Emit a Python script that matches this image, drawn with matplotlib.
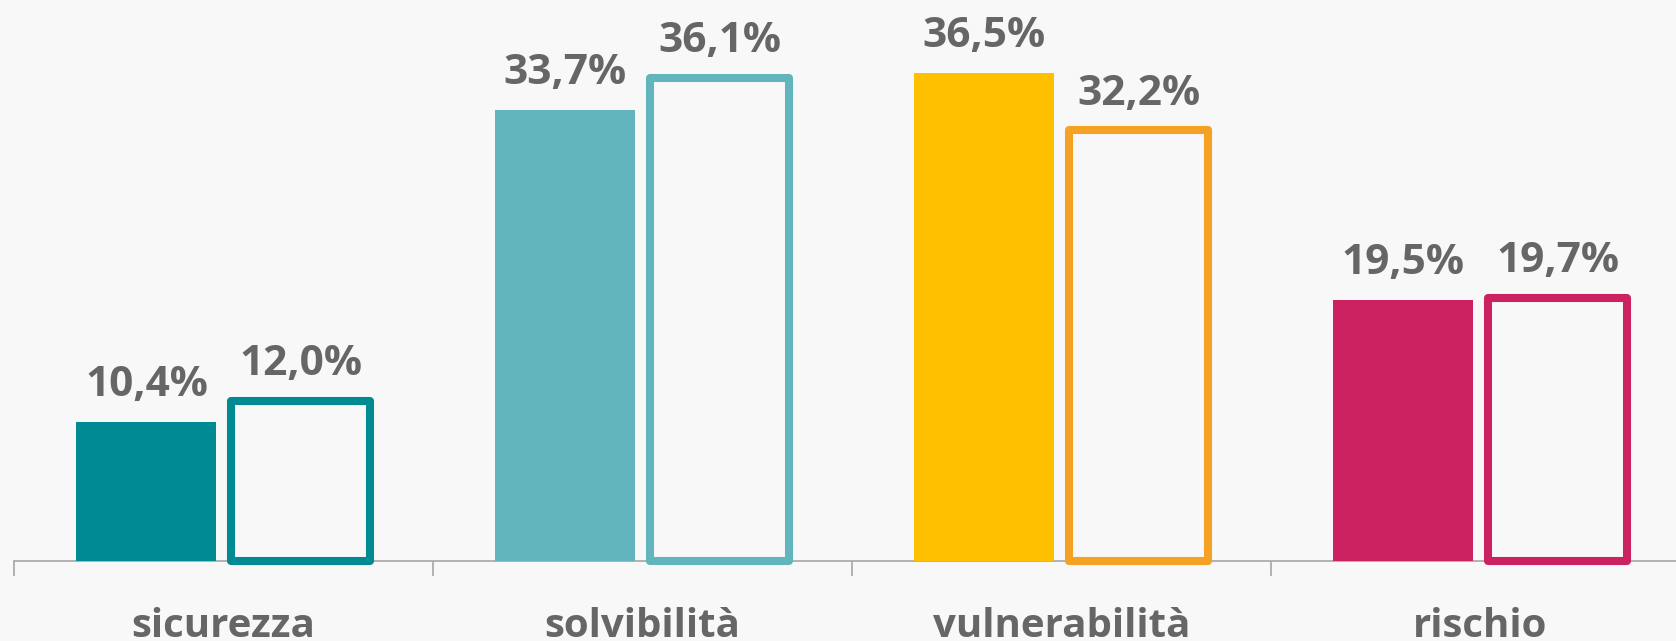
import matplotlib
matplotlib.use("Agg")
import matplotlib.pyplot as plt

categories = ["sicurezza", "solvibilità", "vulnerabilità", "rischio"]
values_a = [10.4, 33.7, 36.5, 19.5]
values_b = [12.0, 36.1, 32.2, 19.7]
labels_a = ["10,4%", "33,7%", "36,5%", "19,5%"]
labels_b = ["12,0%", "36,1%", "32,2%", "19,7%"]
fill_colors = ["#008A94", "#63B5BD", "#FFC000", "#CC2261"]
edge_colors = ["#008A94", "#63B5BD", "#F4A124", "#CC2261"]

BG = "#F8F8F8"
TXT = "#666666"
plt.rcParams["font.family"] = ["Open Sans", "DejaVu Sans"]

W, H = 1676, 641
fig = plt.figure(figsize=(W / 100, H / 100), dpi=100, facecolor=BG)
ax = fig.add_axes([14 / W, 80 / H, 1.0, 561 / H])
ax.set_facecolor(BG)

x = list(range(len(categories)))
off = 0.184
ax.bar([i - off for i in x], values_a, width=0.334, color=fill_colors,
       linewidth=0, zorder=3)
bars_b = ax.bar([i + off for i in x], values_b, width=0.33, facecolor="none",
                edgecolor=edge_colors, linewidth=5.8, zorder=3, clip_on=False)
for b in bars_b:
    b.set_joinstyle("round")

for i in x:
    ax.annotate(labels_a[i], xy=(i - off, values_a[i]), xytext=(0, 18.7),
                textcoords="offset points", ha="center", va="baseline",
                fontsize=30.5, fontweight="bold", color=TXT)
    ax.annotate(labels_b[i], xy=(i + off, values_b[i]), xytext=(0, 18.7),
                textcoords="offset points", ha="center", va="baseline",
                fontsize=30.5, fontweight="bold", color=TXT)
    ax.annotate(categories[i], xy=(i, 0), xycoords=("data", "axes fraction"),
                xytext=(0, -54.7), textcoords="offset points",
                ha="center", va="baseline", fontsize=29, fontweight="bold",
                color=TXT, annotation_clip=False)

ax.set_xlim(-0.5, 3.5)
ax.set_ylim(0, 561 / 13.37)
for s in ["top", "right", "left"]:
    ax.spines[s].set_visible(False)
ax.spines["bottom"].set_color("#A6A6A6")
ax.spines["bottom"].set_linewidth(1.2)
ax.set_yticks([])
ax.set_xticks([-0.5, 0.5, 1.5, 2.5, 3.5])
ax.set_xticklabels([])
ax.tick_params(axis="x", length=11, width=1.2, color="#A6A6A6", direction="out")

fig.savefig("out.png", dpi=100, facecolor=BG)
